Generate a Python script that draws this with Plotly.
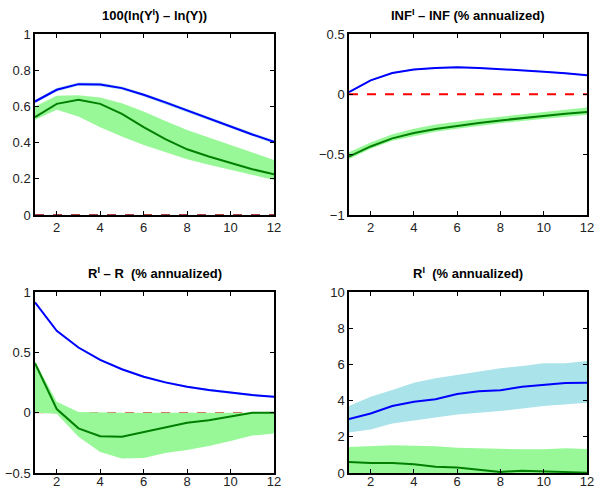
import plotly.graph_objects as go

x = list(range(1, 13))

# Panel 1: 100(ln(Y^I) - ln(Y))
p1_blue = [0.627, 0.692, 0.723, 0.721, 0.701, 0.664, 0.622, 0.577, 0.533, 0.489, 0.445, 0.404]
p1_blue_up = [0.636, 0.701, 0.732, 0.730, 0.710, 0.673, 0.631, 0.586, 0.542, 0.498, 0.454, 0.413]
p1_blue_lo = [0.618, 0.683, 0.714, 0.712, 0.692, 0.655, 0.613, 0.568, 0.524, 0.480, 0.436, 0.395]
p1_green = [0.541, 0.614, 0.637, 0.614, 0.559, 0.485, 0.419, 0.363, 0.323, 0.286, 0.253, 0.225]
p1_green_up = [0.600, 0.659, 0.662, 0.649, 0.618, 0.572, 0.520, 0.470, 0.428, 0.387, 0.345, 0.304]
p1_green_lo = [0.526, 0.581, 0.544, 0.485, 0.434, 0.387, 0.349, 0.308, 0.277, 0.249, 0.221, 0.194]

# Panel 2: INF^I - INF
p2_blue = [0.019, 0.116, 0.177, 0.205, 0.219, 0.224, 0.219, 0.210, 0.199, 0.188, 0.174, 0.158]
p2_blue_up = [0.025, 0.122, 0.183, 0.211, 0.225, 0.230, 0.225, 0.216, 0.205, 0.194, 0.180, 0.164]
p2_blue_lo = [0.013, 0.110, 0.171, 0.199, 0.213, 0.218, 0.213, 0.204, 0.193, 0.182, 0.168, 0.152]
p2_green = [-0.515, -0.432, -0.365, -0.321, -0.288, -0.260, -0.238, -0.216, -0.197, -0.177, -0.161, -0.147]
p2_green_up = [-0.480, -0.400, -0.330, -0.285, -0.250, -0.225, -0.205, -0.185, -0.165, -0.145, -0.130, -0.110]
p2_green_lo = [-0.535, -0.450, -0.385, -0.345, -0.310, -0.285, -0.260, -0.240, -0.220, -0.200, -0.185, -0.170]

# Panel 3: R^I - R
p3_blue = [0.914, 0.678, 0.540, 0.437, 0.360, 0.298, 0.251, 0.215, 0.187, 0.166, 0.146, 0.132]
p3_blue_up = [0.922, 0.686, 0.549, 0.446, 0.369, 0.307, 0.260, 0.224, 0.196, 0.175, 0.155, 0.141]
p3_blue_lo = [0.906, 0.670, 0.531, 0.428, 0.351, 0.289, 0.242, 0.206, 0.178, 0.157, 0.137, 0.123]
p3_green = [0.410, 0.030, -0.130, -0.195, -0.200, -0.160, -0.118, -0.084, -0.062, -0.034, 0.000, 0.000]
p3_green_up = [0.423, 0.090, 0.005, 0.0, 0.0, 0.0, 0.0, 0.0, 0.0, 0.0, 0.0, 0.0]
p3_green_lo = [0.0, -0.010, -0.200, -0.325, -0.380, -0.375, -0.335, -0.310, -0.276, -0.234, -0.190, -0.173]

# Panel 4: R^I
p4_blue = [2.98, 3.29, 3.70, 3.94, 4.07, 4.36, 4.51, 4.57, 4.77, 4.86, 4.97, 4.99]
p4_blue_up = [3.70, 4.21, 4.58, 4.99, 5.23, 5.42, 5.60, 5.79, 5.91, 6.06, 6.06, 6.19]
p4_blue_lo = [2.24, 2.40, 2.74, 2.92, 3.07, 3.23, 3.33, 3.42, 3.57, 3.70, 3.81, 3.88]
p4_green = [0.61, 0.55, 0.55, 0.48, 0.35, 0.30, 0.18, 0.06, 0.13, 0.09, 0.02, 0.02]
p4_green_up = [1.44, 1.50, 1.53, 1.50, 1.48, 1.39, 1.35, 1.33, 1.31, 1.31, 1.37, 1.33]
p4_green_lo = [0.0] * 12

x_ticks = [2, 4, 6, 8, 10, 12]

titles = [
    "100(ln(Y<sup>I</sup>) \u2013 ln(Y))",
    "INF<sup>I</sup> \u2013 INF (% annualized)",
    "R<sup>I</sup> \u2013 R  (% annualized)",
    "R<sup>I</sup>  (% annualized)",
]

W, H = 596, 489
BLUE = "#0000FF"
GREEN = "#007F00"
LGREEN = "#98F898"
LBLUE = "#ABE3EA"
FONT = "Liberation Sans, Arial, sans-serif"

panels = [
    dict(px=(35, 274), py=(34, 215), yr=[0, 1], dt=0.2, so=0,
         blue=(p1_blue, p1_blue_up, p1_blue_lo), green=(p1_green, p1_green_up, p1_green_lo),
         zero=dict(color="#8B0000", width=1.5)),
    dict(px=(349, 587), py=(34, 215), yr=[-1, 0.5], dt=0.5, so=0,
         blue=(p2_blue, p2_blue_up, p2_blue_lo), green=(p2_green, p2_green_up, p2_green_lo),
         zero=dict(color="#FF0000", width=2)),
    dict(px=(35, 274), py=(292, 473), yr=[-0.5, 1], dt=0.5, so=-4,
         blue=(p3_blue, p3_blue_up, p3_blue_lo), green=(p3_green, p3_green_up, p3_green_lo),
         zero=dict(color="#E03030", width=1)),
    dict(px=(349, 587), py=(292, 473), yr=[0, 10], dt=2, so=-4,
         blue=(p4_blue, p4_blue_up, p4_blue_lo), green=(p4_green, p4_green_up, p4_green_lo),
         zero=None),
]

fig = go.Figure()
annotations = []
for i, p in enumerate(panels):
    n = "" if i == 0 else str(i + 1)
    xa, ya = "x" + n, "y" + n
    if p["zero"] is not None:
        fig.add_trace(go.Scatter(x=[1, 12], y=[0, 0], mode="lines",
                                 line=dict(color=p["zero"]["color"], width=p["zero"]["width"], dash="dash"),
                                 xaxis=xa, yaxis=ya, showlegend=False, hoverinfo="skip"))
    for (mid, up, lo), fillc in [(p["blue"], LBLUE), (p["green"], LGREEN)]:
        fig.add_trace(go.Scatter(x=x + x[::-1], y=up + lo[::-1], fill="toself", fillcolor=fillc,
                                 line=dict(width=0), mode="lines", xaxis=xa, yaxis=ya,
                                 showlegend=False, hoverinfo="skip"))
    for (mid, up, lo), linec in [(p["blue"], BLUE), (p["green"], GREEN)]:
        fig.add_trace(go.Scatter(x=x, y=mid, mode="lines", line=dict(color=linec, width=2),
                                 xaxis=xa, yaxis=ya, showlegend=False))
    x0, x1 = p["px"]
    y0, y1 = p["py"]
    xd = [x0 / W, x1 / W]
    yd = [1 - y1 / H, 1 - y0 / H]
    axstyle = dict(showline=True, linecolor="black", linewidth=1.5, mirror="ticks",
                   ticks="inside", ticklen=4, tickcolor="black", showgrid=False, zeroline=False,
                   automargin=False, tickfont=dict(family=FONT, size=13, color="#222"))
    fig.layout["xaxis" + n] = dict(domain=xd, range=[1, 12], tickmode="array",
                                   tickvals=x_ticks, anchor=ya, ticklabelstandoff=p["so"],
                                   **axstyle)
    fig.layout["yaxis" + n] = dict(domain=yd, range=p["yr"], dtick=p["dt"], tick0=0,
                                   anchor=xa, **axstyle)
    annotations.append(dict(text="<b>" + titles[i] + "</b>", x=(xd[0] + xd[1]) / 2,
                            y=1 - (y0 - 19) / H, xref="paper", yref="paper",
                            showarrow=False, xanchor="center", yanchor="middle",
                            font=dict(family=FONT, size=13, color="black")))

fig.update_layout(width=W, height=H, margin=dict(l=0, r=0, t=0, b=0, autoexpand=False),
                  plot_bgcolor="white", paper_bgcolor="white", annotations=annotations)

fig.write_html("out.html", config={"displayModeBar": False},
               post_script="document.body.style.margin='0px';"
                           "document.documentElement.style.overflow='hidden';")
